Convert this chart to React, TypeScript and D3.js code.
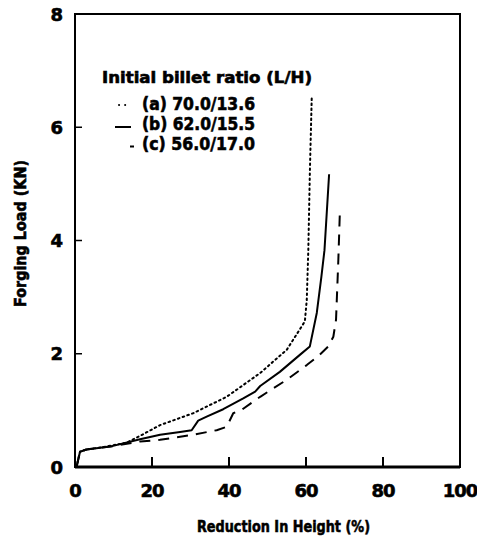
import React, { useRef, useEffect } from "react";
import * as d3 from "d3";

// Curve (a) 70.0/13.6 - dotted
const reductionA = [0.4, 1.3, 3.0, 8.0, 13.4, 16.9, 22.1, 30.7, 39.4, 48.1, 55.0, 59.7, 60.2, 60.6, 61.0, 61.5];
const loadA = [0, 0.27, 0.31, 0.36, 0.43, 0.55, 0.74, 0.95, 1.24, 1.66, 2.07, 2.57, 2.95, 3.83, 5.2, 6.55];

// Curve (b) 62.0/15.5 - solid
const reductionB = [0.4, 1.3, 3.0, 9.1, 16.9, 22.1, 27.3, 30.3, 32.0, 34.2, 38.5, 43.7, 46.8, 48.1, 53.2, 58.4, 61.0, 62.8, 64.0, 64.8, 66.0];
const loadB = [0, 0.27, 0.31, 0.36, 0.49, 0.57, 0.62, 0.65, 0.82, 0.89, 1.02, 1.21, 1.33, 1.43, 1.68, 1.98, 2.13, 2.72, 3.36, 3.83, 5.17];

// Curve (c) 56.0/17.0 - dashed
const reductionC = [0.4, 1.3, 3.0, 9.1, 16.9, 22.1, 30.7, 36.8, 39.4, 41.1, 43.3, 48.1, 55.0, 60.2, 63.2, 65.8, 67.1, 67.8, 68.4, 68.8];
const loadC = [0, 0.27, 0.31, 0.36, 0.45, 0.48, 0.57, 0.65, 0.71, 0.95, 1.01, 1.24, 1.54, 1.80, 1.96, 2.13, 2.30, 2.60, 3.66, 4.51];

const legendTitle = "Initial billet ratio (L/H)";
const legendLabels = ["(a) 70.0/13.6", "(b) 62.0/15.5", "(c) 56.0/17.0"];
const xTicks = [0, 20, 40, 60, 80, 100];
const yTicks = [0, 2, 4, 6, 8];

const FONT = "'DejaVu Sans', sans-serif";

export default function App() {
  const ref = useRef<SVGSVGElement>(null);

  useEffect(() => {
    const svg = d3.select(ref.current);
    svg.selectAll("*").remove();

    const x = d3.scaleLinear().domain([0, 100]).range([75, 460]);
    const y = d3.scaleLinear().domain([0, 8]).range([467, 14]);

    const series = [
      { xs: reductionA, ys: loadA, dash: "1.6,3.4", cap: "round" },
      { xs: reductionB, ys: loadB, dash: null, cap: "butt" },
      { xs: reductionC, ys: loadC, dash: "11,8", cap: "butt" },
    ];

    const line = d3
      .line<[number, number]>()
      .x((d) => x(d[0]))
      .y((d) => y(d[1]));

    series.forEach((s) => {
      const pts = s.xs.map((v, i) => [v, s.ys[i]] as [number, number]);
      svg
        .append("path")
        .attr("d", line(pts))
        .attr("fill", "none")
        .attr("stroke", "#000")
        .attr("stroke-width", 2)
        .attr("stroke-linecap", s.cap)
        .attr("stroke-linejoin", "round")
        .attr("stroke-dasharray", s.dash);
    });

    // frame
    svg
      .append("rect")
      .attr("x", x(0))
      .attr("y", y(8))
      .attr("width", x(100) - x(0))
      .attr("height", y(0) - y(8))
      .attr("fill", "none")
      .attr("stroke", "#000")
      .attr("stroke-width", 2);
    svg
      .append("line")
      .attr("x1", x(0))
      .attr("x2", x(100))
      .attr("y1", y(0))
      .attr("y2", y(0))
      .attr("stroke", "#000")
      .attr("stroke-width", 3);

    // inward ticks
    svg
      .append("g")
      .selectAll("line")
      .data(xTicks.slice(1, -1))
      .join("line")
      .attr("x1", (d) => x(d))
      .attr("x2", (d) => x(d))
      .attr("y1", y(0))
      .attr("y2", y(0) - 10)
      .attr("stroke", "#000")
      .attr("stroke-width", 2);
    svg
      .append("g")
      .selectAll("line")
      .data(yTicks.slice(1, -1))
      .join("line")
      .attr("x1", x(0))
      .attr("x2", x(0) + 7)
      .attr("y1", (d) => y(d))
      .attr("y2", (d) => y(d))
      .attr("stroke", "#000")
      .attr("stroke-width", 1.5);

    // heavy text helper
    const heavy = (sel: any, size: number) =>
      sel
        .style("font-family", FONT)
        .style("font-weight", "bold")
        .style("font-size", `${size}px`)
        .attr("stroke", "#000")
        .attr("stroke-width", 0.6);

    // tick labels
    heavy(
      svg
        .append("g")
        .selectAll("text")
        .data(xTicks)
        .join("text")
        .attr("x", (d) => x(d))
        .attr("y", 497)
        .attr("text-anchor", "middle")
        .style("letter-spacing", "-1px"),
      18
    ).text((d) => d);
    heavy(
      svg
        .append("g")
        .selectAll("text")
        .data(yTicks)
        .join("text")
        .attr("x", 63)
        .attr("y", (d) => y(d) + 6.5)
        .attr("text-anchor", "end"),
      18
    ).text((d) => d);

    // axis titles
    heavy(
      svg
        .append("text")
        .attr("x", 197)
        .attr("y", 532)
        .attr("textLength", 173)
        .attr("lengthAdjust", "spacingAndGlyphs"),
      16
    ).text("Reduction In Height (%)");
    heavy(
      svg
        .append("text")
        .attr("transform", "translate(26,307) rotate(-90)")
        .attr("textLength", 147)
        .attr("lengthAdjust", "spacingAndGlyphs"),
      15
    ).text("Forging Load (KN)");

    // legend
    heavy(
      svg
        .append("text")
        .attr("x", 102)
        .attr("y", 83)
        .attr("textLength", 210)
        .attr("lengthAdjust", "spacingAndGlyphs"),
      15
    ).text(legendTitle);

    const rowY = [110, 130, 149.5];
    heavy(
      svg
        .append("g")
        .selectAll("text")
        .data(legendLabels)
        .join("text")
        .attr("x", 142)
        .attr("y", (_d, i) => rowY[i])
        .attr("textLength", 113)
        .attr("lengthAdjust", "spacingAndGlyphs"),
      17
    ).text((d) => d);

    // legend samples
    svg
      .append("line")
      .attr("x1", 119)
      .attr("x2", 128)
      .attr("y1", rowY[0] - 5)
      .attr("y2", rowY[0] - 5)
      .attr("stroke", "#000")
      .attr("stroke-width", 2)
      .attr("stroke-linecap", "round")
      .attr("stroke-dasharray", "0.1,6");
    svg
      .append("line")
      .attr("x1", 115)
      .attr("x2", 131)
      .attr("y1", rowY[1] - 3)
      .attr("y2", rowY[1] - 3)
      .attr("stroke", "#000")
      .attr("stroke-width", 2);
    svg
      .append("line")
      .attr("x1", 130)
      .attr("x2", 134)
      .attr("y1", rowY[2] - 3)
      .attr("y2", rowY[2] - 3)
      .attr("stroke", "#000")
      .attr("stroke-width", 2);
  }, []);

  return (
    <svg
      ref={ref}
      width={477}
      height={544}
      style={{ position: "absolute", left: 0, top: 0, background: "#fff" }}
    ></svg>
  );
}
